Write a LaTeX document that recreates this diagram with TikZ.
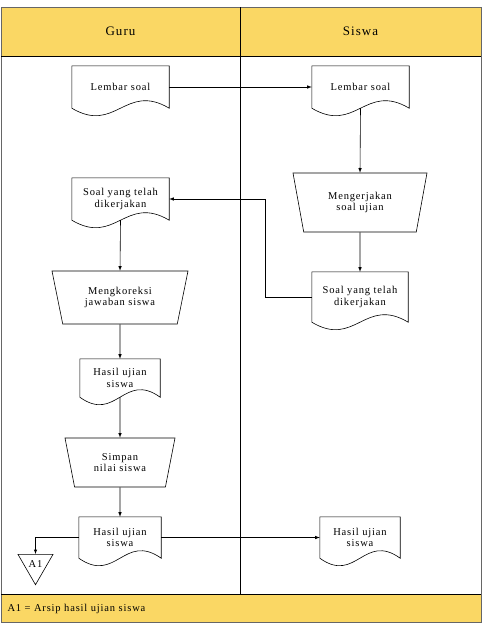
\documentclass[tikz,border=0pt]{standalone}
\usepackage{fontspec}
\setmainfont{Liberation Serif}[LetterSpace=8]
\usepackage{tikz}
\usetikzlibrary{shapes.geometric}
\usetikzlibrary{calc}
\definecolor{kuning}{RGB}{250,215,100}
\tikzset{
  dok/.style={minimum width=#1, minimum height=42pt, inner sep=2pt, align=center,
    font=\fontsize{10.5}{11.5}\selectfont},
  proses/.style={trapezium, draw, line width=0.6pt, shape border rotate=180,
    trapezium left angle=65, trapezium right angle=65, trapezium stretches body,
    inner sep=1pt, align=center, font=\fontsize{10.5}{11.5}\selectfont},
  arsip/.style={regular polygon, regular polygon sides=3, shape border rotate=180,
    draw, line width=0.6pt, minimum size=40.4pt, inner sep=0pt,
    font=\fontsize{10.5}{11.5}\selectfont},
  panah/.style={-latex, line width=0.6pt},
}
\begin{document}
\begin{tikzpicture}[x=1pt,y=-1pt]
        \useasboundingbox (0,0) rectangle (484,624);
        % kolom
        \fill[kuning] (1,7) rectangle (481,56);
        \fill[kuning] (1,594) rectangle (481,622);
        \draw[line width=0.8pt,draw=black!60] (1,7) rectangle (481,622);
        \draw[line width=0.6pt] (1,56)--(481,56);
        \draw[line width=0.6pt] (1,594)--(481,594);
        \draw[line width=0.6pt] (240,7)--(240,594);
        \node[font=\fontsize{13}{15}\selectfont] (guru) at (120.5,31.5) {Guru};
        \node[font=\fontsize{13}{15}\selectfont] (siswa) at (360.5,31.5) {Siswa};
        \node[anchor=west,font=\fontsize{10.5}{12}\selectfont] (ket) at (4,608.5) {A1 = Arsip hasil ujian siswa};

        % guru
        \node[dok=97pt] (lembarG) at (120.5,87) {Lembar soal};
        \node[dok=97pt] (soalG) at (120.5,199) {Soal yang telah\\dikerjakan};
        \node[proses,minimum width=136pt,minimum height=53pt] (koreksi) at (120,297.5) {Mengkoreksi\\jawaban siswa};
        \node[dok=80pt,minimum height=38pt] (hasilG) at (120,378) {Hasil ujian\\siswa};
        \node[proses,minimum width=110pt,minimum height=49pt] (simpan) at (120,462.5) {Simpan\\nilai siswa};
        \node[dok=82pt,minimum height=41pt] (hasilGb) at (120,537.5) {Hasil ujian\\siswa};
        \node[arsip] (a1) at (35.5,564.5) {A1};

        % siswa
        \node[dok=97pt] (lembarS) at (360.5,87) {Lembar soal};
        \node[proses,minimum width=134pt,minimum height=59pt] (kerjakan) at (360,202.5) {Mengerjakan\\soal ujian};
        \node[dok=96pt,minimum height=50pt] (soalS) at (360,297) {Soal yang telah\\dikerjakan};
        \node[dok=80pt,minimum height=41pt] (hasilS) at (360,537.5) {Hasil ujian\\siswa};

        % bentuk dokumen
        \foreach \n in {lembarG,soalG,hasilG,hasilGb,lembarS,soalS,hasilS}
            \draw[line width=0.6pt] (\n.south west)--(\n.north west)--(\n.north east)--(\n.south east)
                .. controls ($(\n.south west)!0.55!(\n.south east)+(0,-26)$) and ($(\n.south west)!0.45!(\n.south east)+(0,26)$) .. (\n.south west);

        % alur
        \draw[panah] (lembarG.east)--(lembarS.west);
        \draw[panah] (lembarS.south)--(kerjakan.north);
        \draw[panah] (kerjakan.south)--(soalS.north);
        \draw[panah] (soalS.west)--++(-47,0)|-(soalG.east);
        \draw[panah] (soalG.south)--(koreksi.north);
        \draw[panah] (koreksi.south)--(hasilG.north);
        \draw[panah] (hasilG.south)--(simpan.north);
        \draw[panah] (simpan.south)--(hasilGb.north);
        \draw[panah] (hasilGb.west)-|(a1.north);
        \draw[panah] (hasilGb.east)--(hasilS.west);
\end{tikzpicture}
\end{document}
